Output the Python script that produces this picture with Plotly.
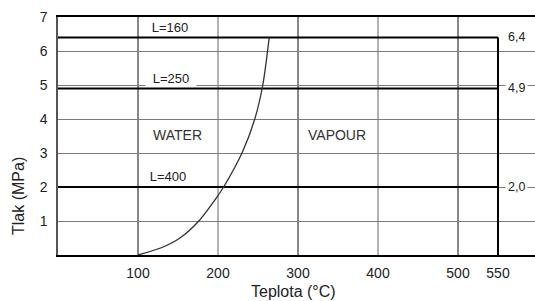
import plotly.graph_objects as go

# ---- data ----
sat_T = [100, 130, 152, 176, 200, 207, 230, 246, 256, 264]
sat_P = [0.0, 0.22, 0.49, 1.0, 1.75, 2.0, 3.0, 4.0, 5.0, 6.4]

L_names = ["L=160", "L=250", "L=400"]
L_pressure = [6.4, 4.9, 2.0]
L_value_labels = ["6,4", "4,9", "2,0"]
T_start = 0
T_max = 550

x_ticks = [100, 200, 300, 400, 500, 550]
y_ticks = [1, 2, 3, 4, 5, 6, 7]
grid_dark = [100, 300, 500]
grid_light = [200, 400]

region_labels = ["WATER", "VAPOUR"]
region_T = [149, 349]
region_P = [3.53, 3.53]

FONT = "Liberation Sans, Arial, sans-serif"
TXT = "#222222"

fig = go.Figure()

# vertical grid lines
for v in grid_dark:
    fig.add_vline(x=v, line=dict(color="#111111", width=1), layer="below")
for v in grid_light:
    fig.add_vline(x=v, line=dict(color="#808080", width=1.2), layer="below")

# pressure limit lines
for p in L_pressure:
    fig.add_trace(go.Scatter(x=[T_start, T_max], y=[p, p], mode="lines",
                             line=dict(color="#000000", width=2), hoverinfo="skip",
                             showlegend=False, cliponaxis=False))
# temperature limit line
fig.add_trace(go.Scatter(x=[T_max, T_max], y=[max(L_pressure), -0.05], mode="lines",
                         line=dict(color="#000000", width=2), hoverinfo="skip",
                         showlegend=False, cliponaxis=False))

# saturation curve
fig.add_trace(go.Scatter(x=sat_T, y=sat_P, mode="lines",
                         line=dict(color="#333333", width=1.3, shape="spline", smoothing=0.8),
                         hoverinfo="skip", showlegend=False))

# L labels
L_label_T = [140, 141, 138]
L_label_P = [6.70, 5.18, 2.30]
for name, t, p in zip(L_names, L_label_T, L_label_P):
    fig.add_annotation(x=t, y=p, text=name, showarrow=False,
                       font=dict(family=FONT, size=13, color=TXT),
                       bgcolor="white", width=50, height=15, borderpad=0)

# value labels right
for lab, p in zip(L_value_labels, L_pressure):
    fig.add_annotation(x=572.5, y=p, text=lab, showarrow=False,
                       font=dict(family=FONT, size=12.5, color=TXT),
                       bgcolor="white", borderpad=2)

# region labels
for lab, t, p in zip(region_labels, region_T, region_P):
    fig.add_annotation(x=t, y=p, text=lab, showarrow=False,
                       font=dict(family=FONT, size=14, color="#333333"))

# axis titles
fig.add_annotation(xref="paper", yref="paper", x=(293 - 58) / 477, y=(255 - 291.5) / 238,
                   xanchor="center", yanchor="middle",
                   text="Teplota (°C)", showarrow=False,
                   font=dict(family=FONT, size=16, color=TXT))
fig.add_annotation(xref="paper", yref="paper", x=(18 - 58) / 477, y=(255 - 196) / 238,
                   xanchor="center", yanchor="middle",
                   text="Tlak (MPa)", showarrow=False, textangle=-90,
                   font=dict(family=FONT, size=16, color=TXT))

fig.update_layout(
    width=535, height=301,
    margin=dict(l=58, r=0, t=17, b=46),
    plot_bgcolor="white", paper_bgcolor="white",
    font=dict(family=FONT, size=14, color=TXT),
    showlegend=False,
)
fig.update_xaxes(range=[0, 596.25], tickvals=x_ticks, ticktext=[str(v) for v in x_ticks],
                 showgrid=False, zeroline=False, showline=True, linecolor="#000000",
                 linewidth=1.5, mirror=True, ticks="", ticklabelstandoff=4,
                 tickfont=dict(family=FONT, size=14, color=TXT))
fig.update_yaxes(range=[0, 7], tickvals=y_ticks, showgrid=True, gridcolor="#7a7a7a",
                 gridwidth=1, zeroline=False, showline=True, linecolor="#555555",
                 linewidth=1.5, ticks="", ticklabelstandoff=6,
                 tickfont=dict(family=FONT, size=14, color=TXT))

fig.write_html("out.html", config={"displayModeBar": False},
               post_script="document.body.style.margin='0';document.body.style.overflow='hidden';")
